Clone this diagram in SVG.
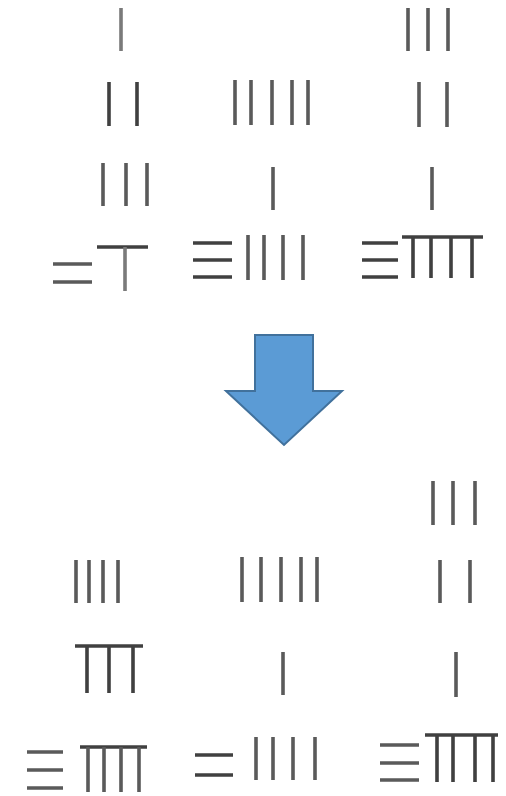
<svg xmlns="http://www.w3.org/2000/svg" width="506" height="796" viewBox="0 0 506 796">
<style>
.r{stroke:#5a5a5a;stroke-width:3.6;fill:none}
.d{stroke:#404040;stroke-width:3.6;fill:none}
.l{stroke:#7a7a7a;stroke-width:3.6;fill:none}
</style>
<rect width="506" height="796" fill="#ffffff"/>
<g id="top-left">
<path class="l" d="M121 8V51"/>
<path class="d" d="M109 82V126M137 82V126" />
<path class="r" d="M103 163V206M126 163V206M147 163V206"/>
<path class="d" d="M97 247H148"/>
<path class="l" d="M125 247V291"/>
<path class="r" d="M53 264H92M53 282H92"/>
</g>
<g id="top-middle">
<path class="r" d="M235 80V125M251 80V125M272 80V125M292 80V125M308 80V125"/>
<path class="r" d="M273 167V210"/>
<path class="d" d="M193 243H232M193 260H232M193 277H232"/>
<path class="r" d="M248 235V280M264 235V280M283 235V280M303 235V280"/>
</g>
<g id="top-right">
<path class="r" d="M408 8V51M428 8V51M448 8V51"/>
<path class="r" d="M419 82V127M447 82V127"/>
<path class="r" d="M432 167V210"/>
<path class="d" d="M362 243H398M362 260H398M362 277H398"/>
<path class="d" d="M402 237H483"/>
<path class="d" d="M413 237V278M431 237V278M451 237V278M472 237V278"/>
</g>
<g id="arrow">
<path d="M255 335H313V391H342L284 445L226 391H255Z" fill="#5B9BD5" stroke="#41719C" stroke-width="2" stroke-linejoin="miter"/>
</g>
<g id="bottom-left">
<path class="r" d="M76 560V603M89 560V603M103 560V603M118 560V603"/>
<path class="d" d="M75 646H143"/>
<path class="d" d="M87 646V693M109 646V693M133 646V693"/>
<path class="r" d="M27 752H63M27 770H63M27 788H63"/>
<path class="d" d="M80 747H147"/>
<path class="r" d="M88 747V792M104 747V792M121 747V792M139 747V792"/>
</g>
<g id="bottom-middle">
<path class="r" d="M242 557V602M261 557V602M281 557V602M301 557V602M317 557V602"/>
<path class="r" d="M283 652V695"/>
<path class="d" d="M195 755H233M195 775H233"/>
<path class="r" d="M256 737V780M273 737V780M293 737V780M315 737V780"/>
</g>
<g id="bottom-right">
<path class="r" d="M433 481V525M453 481V525M475 481V525"/>
<path class="r" d="M440 560V603M470 560V603"/>
<path class="r" d="M456 652V697"/>
<path class="r" d="M380 745H419M380 763H419M380 780H419"/>
<path class="d" d="M425 735H498"/>
<path class="d" d="M437 735V782M453 735V782M475 735V782M493 735V782"/>
</g>
</svg>
